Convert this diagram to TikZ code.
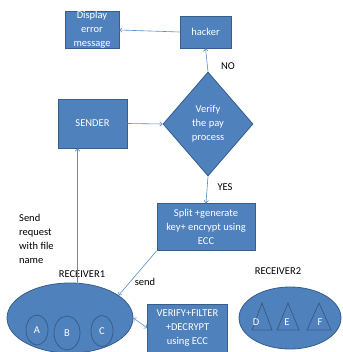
\documentclass[tikz,border=0pt]{standalone}
\usepackage{fontspec}
\setmainfont{Carlito}
\usetikzlibrary{shapes.geometric,arrows.meta}
\definecolor{boxfill}{HTML}{4F81BD}
\definecolor{boxline}{HTML}{385D8A}
\definecolor{arrowcol}{HTML}{5B8BC8}
\tikzset{
  every node/.style={font=\fontsize{10.5}{14}\selectfont},
  bluebox/.style={draw=boxline, fill=boxfill, line width=0.8pt, text=white, align=center, inner sep=0pt},
  blueshape/.style={draw=boxline, fill=boxfill, line width=0.8pt},
  plainlabel/.style={text=black, inner sep=0pt},
  conn/.style={draw=arrowcol, line width=0.6pt, -{To[length=3pt,width=5pt]}},
  conn2/.style={draw=arrowcol, line width=0.6pt, {To[length=3pt,width=5pt]}-{To[length=3pt,width=5pt]}},
}
\begin{document}
\begin{tikzpicture}[x=1pt,y=-1pt]
\useasboundingbox (0,0) rectangle (342,352);
% boxes
\node[bluebox, minimum width=54pt, minimum height=36pt] (disp) at (92,30) {Display\\error\\message};
\node[bluebox, minimum width=51pt, minimum height=32pt] (hack) at (205.5,32) {hacker};
\node[bluebox, minimum width=69pt, minimum height=49pt] (send) at (92.5,123.5) {SENDER};
\node[bluebox, shape=diamond, minimum width=90pt, minimum height=104pt] (ver) at (208,124) {Verify\\the pay\\process};
\node[bluebox, minimum width=98pt, minimum height=47pt] (split) at (206,227) {Split +generate\\key+ encrypt using\\ECC};
\node[bluebox, minimum width=80pt, minimum height=48pt] (vfd) at (187.5,328) {VERIFY+FILTER\\+DECRYPT\\using ECC};
% receiver 1
\node[blueshape, ellipse, minimum width=126pt, minimum height=70pt, inner sep=0pt] (r1) at (70,318) {};
\node[blueshape, ellipse, minimum width=22pt, minimum height=30pt, inner sep=0pt, text=white] (ca) at (37,330) {A};
\node[blueshape, ellipse, minimum width=26pt, minimum height=34pt, inner sep=0pt, text=white] (cb) at (67,333) {B};
\node[blueshape, ellipse, minimum width=22pt, minimum height=31pt, inner sep=0pt, text=white] (cc) at (102,331) {C};
% receiver 2
\node[blueshape, ellipse, minimum width=102pt, minimum height=62pt, inner sep=0pt] (r2) at (290,318) {};
\draw[blueshape] (252,330) -- (262,303) -- (272,330) -- cycle;
\draw[blueshape] (277,330) -- (288,303) -- (299,330) -- cycle;
\draw[blueshape] (307,330) -- (319,303) -- (331,330) -- cycle;
\node[text=white, inner sep=0pt] (ld) at (256,322) {D};
\node[text=white, inner sep=0pt] (le) at (287,322) {E};
\node[text=white, inner sep=0pt] (lf) at (320,322) {F};
% labels
\node[plainlabel] (no) at (228,66) {NO};
\node[plainlabel] (yes) at (225,187) {YES};
\node[plainlabel] (sendl) at (145,282) {send};
\node[plainlabel] (rl1) at (82,274) {RECEIVER1};
\node[plainlabel] (rl2) at (278,271) {RECEIVER2};
\node[plainlabel, align=left, anchor=north west] (req) at (19,214) {Send\\request\\with file\\name};
% connectors
\coordinate (r1top) at (77.5,283.5);
\draw[conn] (hack.west) -- (disp.east);
\draw[conn] (ver.north) -- (hack.south);
\draw[conn] (send.east) -- (ver.west);
\draw[conn] (ver.south) -- (split.north);
\draw[conn] (split.south west) -- (r1.25);
\draw[conn] (r1top) -- (r1top |- send.south);
\draw[conn2] (r1.east) -- (vfd.west);
\end{tikzpicture}
\end{document}
